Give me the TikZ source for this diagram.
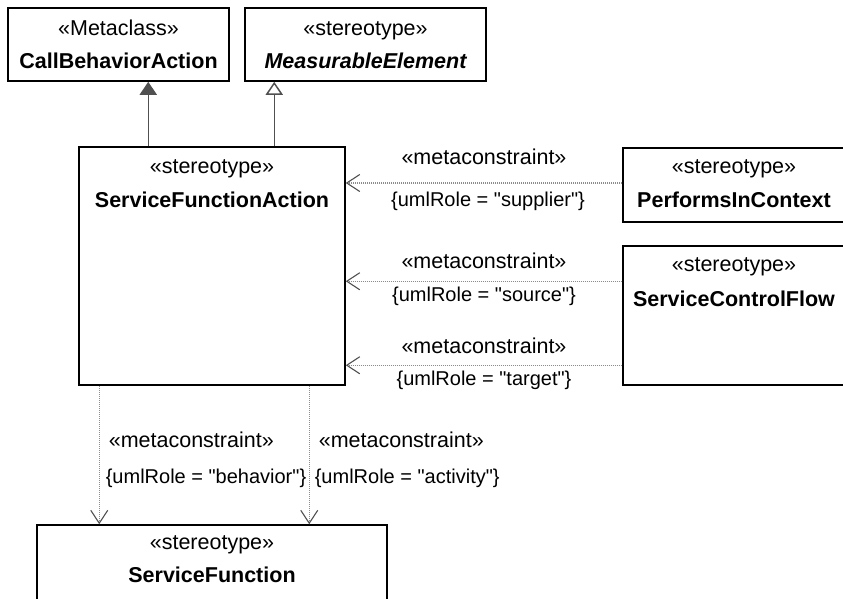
\documentclass[tikz,border=0pt]{standalone}
\usepackage{fontspec}
\setmainfont{Liberation Sans}[Ligatures=TeXOff]
\usetikzlibrary{arrows.meta}
\definecolor{edgegray}{HTML}{505050}
\definecolor{dotgray}{HTML}{8C8C8C}
\tikzset{
  umlbox/.style={draw=black, line width=1.5pt, inner sep=0pt},
  stereo/.style={anchor=base, inner sep=0pt, font=\fontsize{21.5pt}{25pt}\selectfont},
  classname/.style={anchor=base, inner sep=0pt, font=\fontsize{21.5pt}{25pt}\selectfont\bfseries},
  conlabel/.style={inner sep=0pt, text=black, font=\fontsize{21.5pt}{25pt}\selectfont},
  rolelabel/.style={inner sep=0pt, text=black, font=\fontsize{20pt}{24pt}\selectfont},
  genfilled/.style={line width=1.5pt, color=edgegray,
                    -{Triangle[length=13pt,width=17pt]}},
  genopen/.style={line width=1.5pt, color=edgegray,
                  -{Triangle[open,length=13pt,width=17pt]}},
  metaconstraint/.style={line width=1.1pt, color=dotgray, dash pattern=on 1pt off 1pt,
                         -{Straight Barb[length=13pt,width=17pt,line width=1.1pt,color=edgegray]}}
}

\begin{document}
\begin{tikzpicture}[x=1pt,y=-1pt]
    \useasboundingbox (0,0) rectangle (843,598);
    \clip (0,0) rectangle (843,598);

    % boxes
    \node[umlbox, minimum width=221pt, minimum height=73pt] (cba) at (118.5,44.5) {};
    \node[umlbox, minimum width=241pt, minimum height=73pt] (me) at (365.5,44.5) {};
    \node[umlbox, minimum width=266pt, minimum height=238pt] (sfa) at (212,266) {};
    \node[umlbox, minimum width=222pt, minimum height=74pt] (pic) at (734,185) {};
    \node[umlbox, minimum width=222pt, minimum height=139pt] (scf) at (734,315.5) {};
    \node[umlbox, minimum width=350pt, minimum height=77pt] (sf) at (212,563.5) {};

    \node[stereo] (cbast) at ([yshift=-28pt]cba.north) {«Metaclass»};
    \node[classname] (cbaname) at ([yshift=-61.5pt]cba.north) {CallBehaviorAction};

    \node[stereo] (mest) at ([yshift=-28pt]me.north) {«stereotype»};
    \node[classname] (mename) at ([yshift=-61.5pt]me.north) {\itshape MeasurableElement};

    \node[stereo] (sfast) at ([yshift=-27pt]sfa.north) {«stereotype»};
    \node[classname] (sfaname) at ([yshift=-61pt]sfa.north) {ServiceFunctionAction};

    \node[stereo] (picst) at ([yshift=-26pt]pic.north) {«stereotype»};
    \node[classname] (picname) at ([yshift=-60.5pt]pic.north) {PerformsInContext};

    \node[stereo] (scfst) at ([yshift=-26pt]scf.north) {«stereotype»};
    \node[classname] (scfname) at ([yshift=-61.5pt]scf.north) {ServiceControlFlow};

    \node[stereo] (sfst) at ([yshift=-25pt]sf.north) {«stereotype»};
    \node[classname] (sfname) at ([yshift=-58pt]sf.north) {ServiceFunction};

    % generalizations
    \draw[genfilled] ([xshift=70pt]sfa.north west) -- ([xshift=70pt]sfa.north west |- cba.south);
    \draw[genopen] ([xshift=196pt]sfa.north west) -- ([xshift=196pt]sfa.north west |- me.south);

    % metaconstraints
    \draw[metaconstraint] ([yshift=2pt]pic.west) -- ([yshift=2pt]pic.west -| sfa.east)
        node[conlabel, midway, anchor=base, yshift=19pt] {«metaconstraint»}
        node[rolelabel, midway, anchor=base, xshift=4pt, yshift=-23pt] {\{umlRole = "supplier"\}};

    \draw[metaconstraint] ([yshift=-36pt]scf.north west) -- ([yshift=-36pt]scf.north west -| sfa.east)
        node[conlabel, midway, anchor=base, yshift=12.5pt] {«metaconstraint»}
        node[rolelabel, midway, anchor=base, yshift=-20.5pt] {\{umlRole = "source"\}};

    \draw[metaconstraint] ([yshift=-120pt]scf.north west) -- ([yshift=-120pt]scf.north west -| sfa.east)
        node[conlabel, midway, anchor=base, yshift=12pt] {«metaconstraint»}
        node[rolelabel, midway, anchor=base, yshift=-20pt] {\{umlRole = "target"\}};

    \draw[metaconstraint] ([xshift=21pt]sfa.south west) -- ([xshift=21pt]sfa.south west |- sf.north)
        node[conlabel, pos=0.447, anchor=base west, xshift=9pt] {«metaconstraint»}
        node[rolelabel, pos=0.704, anchor=base west, xshift=6pt] {\{umlRole = "behavior"\}};

    \draw[metaconstraint] ([xshift=231pt]sfa.south west) -- ([xshift=231pt]sfa.south west |- sf.north)
        node[conlabel, pos=0.447, anchor=base west, xshift=9pt] {«metaconstraint»}
        node[rolelabel, pos=0.704, anchor=base west, xshift=5pt] {\{umlRole = "activity"\}};
\end{tikzpicture}
\end{document}
